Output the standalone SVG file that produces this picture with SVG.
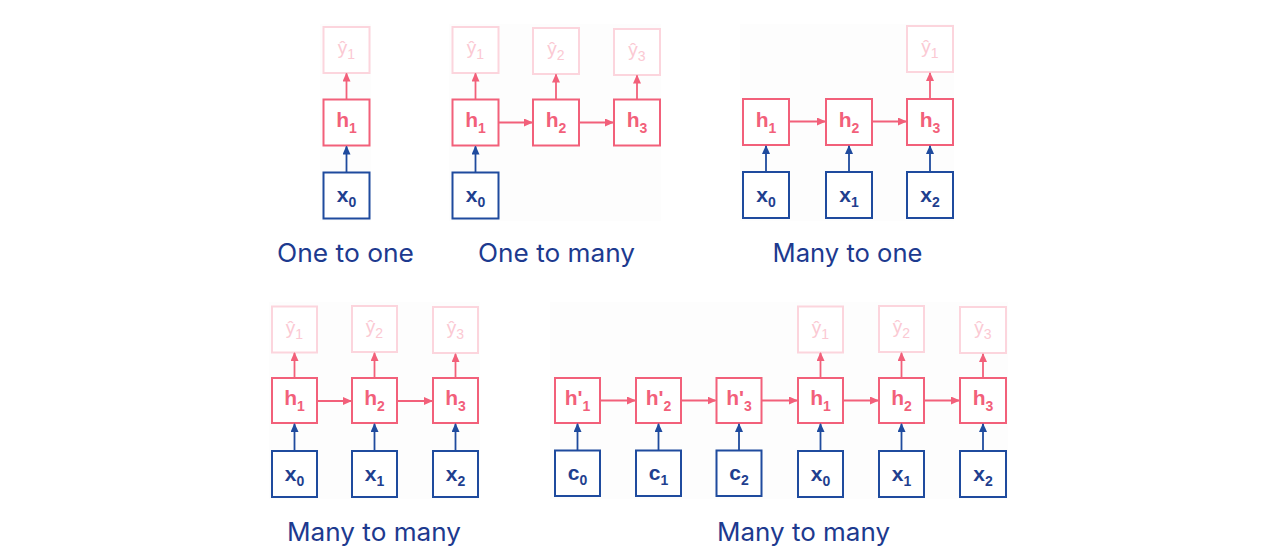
<svg xmlns="http://www.w3.org/2000/svg" width="1276" height="553" viewBox="0 0 1276 553">
<style>
.bg{fill:#fdfdfd}
.h rect{fill:#ffffff;stroke:#f2607a;stroke-width:2}
.x rect{fill:#ffffff;stroke:#1f4b9e;stroke-width:2}
.y rect{fill:#ffffff;stroke:#fcd5dd;stroke-width:2}
.h text{fill:#f2607a;font-family:"Liberation Sans",Arial,sans-serif;font-weight:bold;font-size:21px;text-anchor:middle}
.x text{fill:#1f3f8f;font-family:"Liberation Sans",Arial,sans-serif;font-weight:bold;font-size:21px;text-anchor:middle}
.y text{fill:#fbc9d3;font-family:"Liberation Sans",Arial,sans-serif;font-size:19px;text-anchor:middle}
.sub{font-size:14px}
.pk{stroke:#f2607a;stroke-width:1.8;fill:none;marker-end:url(#ap)}
.bl{stroke:#1f4b9e;stroke-width:1.8;fill:none;marker-end:url(#ab)}
.lbl{fill:#1d3a8f;font-family:Inter,"Liberation Sans",sans-serif;font-size:25px;text-anchor:middle}
</style>
<defs>
<marker id="ap" markerUnits="userSpaceOnUse" markerWidth="9" markerHeight="8" refX="8" refY="4" orient="auto"><path d="M0,0 L9,4 L0,8 z" fill="#f2607a"/></marker>
<marker id="ab" markerUnits="userSpaceOnUse" markerWidth="9" markerHeight="8" refX="8" refY="4" orient="auto"><path d="M0,0 L9,4 L0,8 z" fill="#1f4b9e"/></marker>
</defs>
<rect width="1276" height="553" fill="#ffffff"/>
<g id="panels">
<rect class="bg" x="320" y="24" width="51" height="197"/>
<rect class="bg" x="449" y="24" width="212" height="197"/>
<rect class="bg" x="740" y="24" width="214" height="197"/>
<rect class="bg" x="269" y="302" width="211" height="197"/>
<rect class="bg" x="550" y="302" width="458" height="197"/>
</g>

<!-- One to one -->
<g id="a_y1" class="y"><rect x="323.5" y="27" width="46" height="46"/><text x="346.5" y="54">ŷ<tspan class="sub" dy="5">1</tspan></text></g>
<g id="a_h1" class="h"><rect x="323.5" y="99.5" width="46" height="46"/><text x="346.5" y="127">h<tspan class="sub" dy="6">1</tspan></text></g>
<g id="a_x0" class="x"><rect x="323.5" y="172.5" width="46" height="46"/><text x="346.5" y="202">x<tspan class="sub" dy="5">0</tspan></text></g>

<!-- One to many -->
<g id="b_y1" class="y"><rect x="452.5" y="27" width="46" height="46"/><text x="475.5" y="54">ŷ<tspan class="sub" dy="5">1</tspan></text></g>
<g id="b_y2" class="y"><rect x="533" y="28" width="46" height="46"/><text x="556" y="55">ŷ<tspan class="sub" dy="5">2</tspan></text></g>
<g id="b_y3" class="y"><rect x="614" y="29" width="46" height="46"/><text x="637" y="56">ŷ<tspan class="sub" dy="5">3</tspan></text></g>
<g id="b_h1" class="h"><rect x="452.5" y="99.5" width="46" height="46"/><text x="475.5" y="127">h<tspan class="sub" dy="6">1</tspan></text></g>
<g id="b_h2" class="h"><rect x="533" y="99.5" width="46" height="46"/><text x="556" y="127">h<tspan class="sub" dy="6">2</tspan></text></g>
<g id="b_h3" class="h"><rect x="614" y="99.5" width="46" height="46"/><text x="637" y="127">h<tspan class="sub" dy="6">3</tspan></text></g>
<g id="b_x0" class="x"><rect x="452.5" y="172.5" width="46" height="46"/><text x="475.5" y="202">x<tspan class="sub" dy="5">0</tspan></text></g>

<!-- Many to one -->
<g id="c_y1" class="y"><rect x="907" y="26" width="46" height="46"/><text x="930" y="53">ŷ<tspan class="sub" dy="5">1</tspan></text></g>
<g id="c_h1" class="h"><rect x="743" y="99" width="46" height="46"/><text x="766" y="126.5">h<tspan class="sub" dy="6">1</tspan></text></g>
<g id="c_h2" class="h"><rect x="826" y="99" width="46" height="46"/><text x="849" y="126.5">h<tspan class="sub" dy="6">2</tspan></text></g>
<g id="c_h3" class="h"><rect x="907" y="99" width="46" height="46"/><text x="930" y="126.5">h<tspan class="sub" dy="6">3</tspan></text></g>
<g id="c_x0" class="x"><rect x="743" y="172" width="46" height="46"/><text x="766" y="202">x<tspan class="sub" dy="5">0</tspan></text></g>
<g id="c_x1" class="x"><rect x="826" y="172" width="46" height="46"/><text x="849" y="202">x<tspan class="sub" dy="5">1</tspan></text></g>
<g id="c_x2" class="x"><rect x="907" y="172" width="46" height="46"/><text x="930" y="202">x<tspan class="sub" dy="5">2</tspan></text></g>

<!-- Many to many (left) -->
<g id="d_y1" class="y"><rect x="272" y="306.5" width="45" height="46"/><text x="294.5" y="333.5">ŷ<tspan class="sub" dy="5">1</tspan></text></g>
<g id="d_y2" class="y"><rect x="352" y="306" width="45" height="46"/><text x="374.5" y="333">ŷ<tspan class="sub" dy="5">2</tspan></text></g>
<g id="d_y3" class="y"><rect x="433" y="307" width="45" height="46"/><text x="455.5" y="334">ŷ<tspan class="sub" dy="5">3</tspan></text></g>
<g id="d_h1" class="h"><rect x="272" y="378" width="45" height="45"/><text x="294.5" y="405">h<tspan class="sub" dy="6">1</tspan></text></g>
<g id="d_h2" class="h"><rect x="352" y="378" width="45" height="45"/><text x="374.5" y="405">h<tspan class="sub" dy="6">2</tspan></text></g>
<g id="d_h3" class="h"><rect x="433" y="378" width="45" height="45"/><text x="455.5" y="405">h<tspan class="sub" dy="6">3</tspan></text></g>
<g id="d_x0" class="x"><rect x="272" y="451" width="45" height="46"/><text x="294.5" y="480.5">x<tspan class="sub" dy="5">0</tspan></text></g>
<g id="d_x1" class="x"><rect x="352" y="451" width="45" height="46"/><text x="374.5" y="480.5">x<tspan class="sub" dy="5">1</tspan></text></g>
<g id="d_x2" class="x"><rect x="433" y="451" width="45" height="46"/><text x="455.5" y="480.5">x<tspan class="sub" dy="5">2</tspan></text></g>

<!-- Many to many (right) -->
<g id="e_hp1" class="h"><rect x="555" y="378" width="45" height="45"/><text x="577.5" y="405">h'<tspan class="sub" dy="6">1</tspan></text></g>
<g id="e_hp2" class="h"><rect x="636" y="378" width="45" height="45"/><text x="658.5" y="405">h'<tspan class="sub" dy="6">2</tspan></text></g>
<g id="e_hp3" class="h"><rect x="716.5" y="378" width="45" height="45"/><text x="739" y="405">h'<tspan class="sub" dy="6">3</tspan></text></g>
<g id="e_c0" class="x"><rect x="555" y="450.5" width="45" height="45.5"/><text x="577.5" y="480">c<tspan class="sub" dy="5">0</tspan></text></g>
<g id="e_c1" class="x"><rect x="636" y="450.5" width="45" height="45.5"/><text x="658.5" y="480">c<tspan class="sub" dy="5">1</tspan></text></g>
<g id="e_c2" class="x"><rect x="716.5" y="450.5" width="45" height="45.5"/><text x="739" y="480">c<tspan class="sub" dy="5">2</tspan></text></g>
<g id="e_y1" class="y"><rect x="798" y="306.5" width="45" height="46"/><text x="820.5" y="333.5">ŷ<tspan class="sub" dy="5">1</tspan></text></g>
<g id="e_y2" class="y"><rect x="879" y="306" width="45" height="46"/><text x="901.5" y="333">ŷ<tspan class="sub" dy="5">2</tspan></text></g>
<g id="e_y3" class="y"><rect x="960" y="307" width="46" height="46"/><text x="983" y="334">ŷ<tspan class="sub" dy="5">3</tspan></text></g>
<g id="e_h1" class="h"><rect x="798" y="378" width="45" height="45"/><text x="820.5" y="405">h<tspan class="sub" dy="6">1</tspan></text></g>
<g id="e_h2" class="h"><rect x="879" y="378" width="45" height="45"/><text x="901.5" y="405">h<tspan class="sub" dy="6">2</tspan></text></g>
<g id="e_h3" class="h"><rect x="960" y="378" width="46" height="45"/><text x="983" y="405">h<tspan class="sub" dy="6">3</tspan></text></g>
<g id="e_x0" class="x"><rect x="798" y="451" width="45" height="46"/><text x="820.5" y="480.5">x<tspan class="sub" dy="5">0</tspan></text></g>
<g id="e_x1" class="x"><rect x="879" y="451" width="45" height="46"/><text x="901.5" y="480.5">x<tspan class="sub" dy="5">1</tspan></text></g>
<g id="e_x2" class="x"><rect x="960" y="451" width="46" height="46"/><text x="983" y="480.5">x<tspan class="sub" dy="5">2</tspan></text></g>

<g id="connectors">
<!-- one to one -->
<line class="bl" x1="346.5" y1="172.5" x2="346.5" y2="146.5"/>
<line class="pk" x1="346.5" y1="99.5" x2="346.5" y2="73.5"/>
<!-- one to many -->
<line class="bl" x1="475.5" y1="172.5" x2="475.5" y2="146.5"/>
<line class="pk" x1="475.5" y1="99.5" x2="475.5" y2="73.5"/>
<line class="pk" x1="556" y1="99.5" x2="556" y2="74.5"/>
<line class="pk" x1="637" y1="99.5" x2="637" y2="75.5"/>
<line class="pk" x1="498.5" y1="122.5" x2="532" y2="122.5"/>
<line class="pk" x1="579" y1="122.5" x2="613" y2="122.5"/>
<!-- many to one -->
<line class="bl" x1="766" y1="172" x2="766" y2="146"/>
<line class="bl" x1="849" y1="172" x2="849" y2="146"/>
<line class="bl" x1="930" y1="172" x2="930" y2="146"/>
<line class="pk" x1="930" y1="99" x2="930" y2="73"/>
<line class="pk" x1="789" y1="121.5" x2="825" y2="121.5"/>
<line class="pk" x1="872" y1="121.5" x2="906" y2="121.5"/>
<!-- many to many left -->
<line class="bl" x1="294.5" y1="451" x2="294.5" y2="424"/>
<line class="bl" x1="374.5" y1="451" x2="374.5" y2="424"/>
<line class="bl" x1="455.5" y1="451" x2="455.5" y2="424"/>
<line class="pk" x1="294.5" y1="378" x2="294.5" y2="353"/>
<line class="pk" x1="374.5" y1="378" x2="374.5" y2="353"/>
<line class="pk" x1="455.5" y1="378" x2="455.5" y2="354"/>
<line class="pk" x1="317" y1="401" x2="351" y2="401"/>
<line class="pk" x1="397" y1="401" x2="432" y2="401"/>
<!-- many to many right -->
<line class="bl" x1="577.5" y1="450.5" x2="577.5" y2="424"/>
<line class="bl" x1="658.5" y1="450.5" x2="658.5" y2="424"/>
<line class="bl" x1="739" y1="450.5" x2="739" y2="424"/>
<line class="bl" x1="820.5" y1="451" x2="820.5" y2="424"/>
<line class="bl" x1="901.5" y1="451" x2="901.5" y2="424"/>
<line class="bl" x1="983" y1="451" x2="983" y2="424"/>
<line class="pk" x1="820.5" y1="378" x2="820.5" y2="353"/>
<line class="pk" x1="901.5" y1="378" x2="901.5" y2="353"/>
<line class="pk" x1="983" y1="378" x2="983" y2="354"/>
<line class="pk" x1="600" y1="400.5" x2="635" y2="400.5"/>
<line class="pk" x1="681" y1="400.5" x2="715.5" y2="400.5"/>
<line class="pk" x1="761.5" y1="400.5" x2="797" y2="400.5"/>
<line class="pk" x1="843" y1="400.5" x2="878" y2="400.5"/>
<line class="pk" x1="924" y1="400.5" x2="959" y2="400.5"/>
</g>

<g id="labels">
<text class="lbl" x="345.5" y="262" textLength="137" lengthAdjust="spacingAndGlyphs">One to one</text>
<text class="lbl" x="556.5" y="262" textLength="157" lengthAdjust="spacingAndGlyphs">One to many</text>
<text class="lbl" x="847.5" y="262" textLength="150" lengthAdjust="spacingAndGlyphs">Many to one</text>
<text class="lbl" x="374" y="541" textLength="174" lengthAdjust="spacingAndGlyphs">Many to many</text>
<text class="lbl" x="803.5" y="541" textLength="173" lengthAdjust="spacingAndGlyphs">Many to many</text>
</g>
</svg>
